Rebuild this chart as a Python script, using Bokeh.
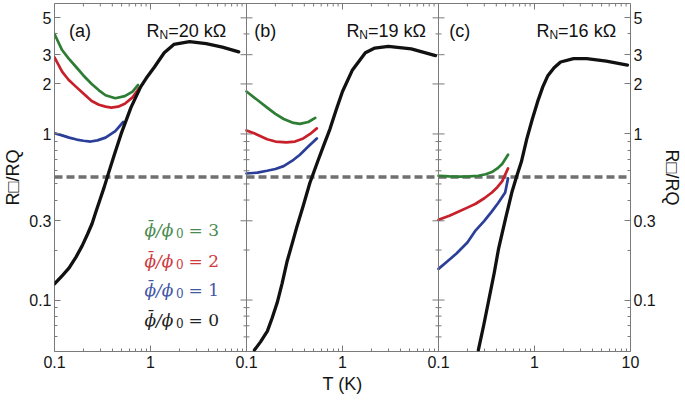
import math
from bokeh.plotting import figure
from bokeh.models import LogAxis, FixedTicker, Span, Label, Range1d, LogScale
from bokeh.embed import file_html
from bokeh.resources import INLINE

# ---------------- data: T (K) and R_sq / R_Q ----------------
# panel (a)  R_N = 20 kOhm
a_T0 = [0.1, 0.12, 0.142, 0.168, 0.194, 0.22, 0.246, 0.27, 0.30, 0.33, 0.364, 0.42, 0.494, 0.625, 0.79, 0.93, 1.1, 1.39, 1.75, 2.55, 3.8, 5.6, 8.3]
a_R0 = [0.125, 0.14, 0.156, 0.182, 0.212, 0.248, 0.288, 0.34, 0.407, 0.48, 0.577, 0.75, 1.0, 1.44, 1.92, 2.22, 2.53, 3.08, 3.46, 3.6, 3.5, 3.33, 3.12]
a_T1 = [0.1, 0.12, 0.142, 0.17, 0.2, 0.238, 0.28, 0.34, 0.43, 0.52]
a_R1 = [1.01, 0.98, 0.95, 0.925, 0.91, 0.90, 0.915, 0.95, 1.04, 1.18]
a_T2 = [0.1, 0.12, 0.14, 0.168, 0.2, 0.244, 0.29, 0.34, 0.39, 0.46, 0.54, 0.65, 0.77]
a_R2 = [2.89, 2.37, 2.12, 1.92, 1.75, 1.58, 1.5, 1.46, 1.44, 1.46, 1.52, 1.66, 1.9]
a_T3 = [0.1, 0.11, 0.12, 0.14, 0.168, 0.2, 0.244, 0.29, 0.34, 0.43, 0.54, 0.65, 0.74]
a_R3 = [4.0, 3.55, 3.2, 2.85, 2.53, 2.25, 2.0, 1.83, 1.71, 1.64, 1.69, 1.8, 1.97]

# panel (b)  R_N = 19 kOhm
b_T0 = [0.121, 0.14, 0.165, 0.185, 0.209, 0.235, 0.264, 0.3, 0.334, 0.39, 0.457, 0.55, 0.64, 0.74, 0.86, 1.0, 1.27, 1.73, 2.17, 3.0, 5.2, 9.3]
b_R0 = [0.05, 0.056, 0.065, 0.078, 0.0966, 0.126, 0.17, 0.22, 0.275, 0.37, 0.507, 0.68, 0.86, 1.07, 1.4, 1.8, 2.43, 3.08, 3.29, 3.37, 3.25, 2.96]
b_T1 = [0.1, 0.13, 0.164, 0.2, 0.244, 0.3, 0.36, 0.44, 0.54]
b_R1 = [0.578, 0.585, 0.6, 0.615, 0.64, 0.69, 0.75, 0.84, 0.94]
b_T2 = [0.1, 0.12, 0.164, 0.2, 0.26, 0.32, 0.39, 0.46, 0.54]
b_R2 = [1.05, 1.01, 0.93, 0.9, 0.89, 0.9, 0.94, 1.0, 1.08]
b_T3 = [0.1, 0.13, 0.164, 0.2, 0.244, 0.3, 0.36, 0.44, 0.52]
b_R3 = [1.8, 1.6, 1.44, 1.32, 1.23, 1.17, 1.15, 1.18, 1.25]

# panel (c)  R_N = 16 kOhm
c_T0 = [0.26, 0.295, 0.334, 0.38, 0.422, 0.5, 0.58, 0.65, 0.73, 0.83, 0.95, 1.08, 1.22, 1.37, 1.6, 1.87, 2.55, 3.5, 5.6, 9.3]
c_R0 = [0.05, 0.07, 0.1, 0.145, 0.203, 0.31, 0.444, 0.553, 0.68, 0.93, 1.23, 1.57, 1.92, 2.23, 2.5, 2.71, 2.84, 2.84, 2.74, 2.6]
c_T1 = [0.1, 0.125, 0.153, 0.2, 0.244, 0.3, 0.36, 0.42, 0.495, 0.53]
c_R1 = [0.154, 0.172, 0.19, 0.222, 0.263, 0.3, 0.342, 0.385, 0.444, 0.54]
c_T2 = [0.1, 0.13, 0.165, 0.2, 0.244, 0.3, 0.36, 0.41, 0.46, 0.53]
c_R2 = [0.304, 0.322, 0.342, 0.36, 0.38, 0.41, 0.444, 0.478, 0.518, 0.62]
c_T3 = [0.1, 0.13, 0.165, 0.21, 0.26, 0.31, 0.36, 0.41, 0.46, 0.53]
c_R3 = [0.56, 0.555, 0.553, 0.555, 0.56, 0.572, 0.59, 0.62, 0.66, 0.75]

threshold = 0.55
panel_tags = ["(a)", "(b)", "(c)"]
rn_values = ["20", "19", "16"]
phi_ratios = ["3", "2", "1", "0"]
y_title = "R\u25a1/RQ"
x_title = "T (K)"

x_tick_values = [0.1, 1, 10]
x_tick_labels = ["0.1", "1", "10"]
x_minor_values = [0.2, 0.3, 0.4, 0.5, 0.6, 0.7, 0.8, 0.9, 2, 3, 4, 5, 6, 7, 8, 9]
y_tick_values = [0.1, 0.3, 1, 2, 3, 5]
y_tick_labels = ["0.1", "0.3", "1", "2", "3", "5"]
y_minor_values = [0.06, 0.07, 0.08, 0.09, 0.2, 0.4, 0.5, 0.6, 0.7, 0.8, 0.9, 4]

# ---------------- styling ----------------
X_LO, X_HI = 0.1, 10.0
Y_LO, Y_HI = 0.049, 6.1
SPAN = X_HI / X_LO
FW, FH = 576, 348
PW = FW / 3
S = FH / 368.0
SX = PW / 198.0
TOP = 3
GRAY = "#7a7a7a"
SANS = "Liberation Sans"
COLORS = ["#111111", "#2b3f98", "#c8202b", "#2e7d34"]
TEXT_COLORS = ["#222222", "#4256a6", "#cf3a40", "#4a8a4f"]
WIDTHS = [3.3, 2.7, 2.7, 2.7]


def g(x):
    return float(f"{x:.6g}")


p = figure(x_axis_type="log", y_axis_type="log",
           x_range=Range1d(X_LO, g(X_LO * SPAN ** 3)), y_range=Range1d(Y_LO, Y_HI),
           frame_width=FW, frame_height=FH, output_backend="svg", toolbar_location=None,
           min_border_left=0, min_border_right=0, min_border_top=TOP, min_border_bottom=0,
           background_fill_color="white", border_fill_color="white")
p.extra_x_ranges = {"b": Range1d(g(X_LO / SPAN), g(X_HI * SPAN)),
                    "c": Range1d(g(X_LO / SPAN ** 2), X_HI)}
p.extra_x_scales = {"b": LogScale(), "c": LogScale()}
p.grid.visible = False
p.outline_line_color = GRAY
p.outline_line_width = 1

# combined x ticks: each panel repeats 0.1 .. 10
x_major = {}
x_minor = set()
for i in range(3):
    for v, lab in zip(x_tick_values, x_tick_labels):
        x_major[g(v * SPAN ** i)] = lab
    for m in x_minor_values:
        x_minor.add(g(m * SPAN ** i))
x_major_ticks = sorted(x_major)
x_minor_ticks = sorted(x_minor)

bottom_axis = p.below[0]
left_axis = p.left[0]
right_axis = LogAxis()
p.add_layout(right_axis, "right")


def style_axis(ax, ticks, minor, labels, title):
    ax.ticker = FixedTicker(ticks=ticks, minor_ticks=minor)
    ax.axis_line_color = None
    ax.major_tick_line_color = GRAY
    ax.minor_tick_line_color = GRAY
    ax.major_tick_in = 6
    ax.major_tick_out = 0
    ax.minor_tick_in = 3
    ax.minor_tick_out = 0
    ax.major_label_overrides = labels
    ax.major_label_text_font = SANS
    ax.major_label_text_font_size = "16px"
    ax.major_label_text_color = "#151515"
    ax.major_label_standoff = 3
    ax.axis_label = title
    ax.axis_label_text_font = SANS
    ax.axis_label_text_font_size = "18px"
    ax.axis_label_text_font_style = "normal"
    ax.axis_label_text_color = "#151515"
    ax.axis_label_standoff = 3


style_axis(bottom_axis, x_major_ticks, x_minor_ticks, x_major, x_title)
y_labels = {float(v): lab for v, lab in zip(y_tick_values, y_tick_labels)}
style_axis(left_axis, y_tick_values, y_minor_values, y_labels, y_title)
style_axis(right_axis, y_tick_values, y_minor_values, y_labels, y_title)
bottom_axis.major_label_standoff = 4

# threshold dashed line
p.add_layout(Span(location=threshold, dimension="width", line_color="#707070",
                  line_width=3.5, line_dash="8 4", level="underlay"))

# inward ticks along the top edge (half of each dash lies outside the frame and is clipped)
p.scatter(x=x_major_ticks, y=[Y_HI] * len(x_major_ticks), marker="dash", angle=math.pi / 2,
          size=12, line_color=GRAY, line_width=1)
p.scatter(x=x_minor_ticks, y=[Y_HI] * len(x_minor_ticks), marker="dash", angle=math.pi / 2,
          size=6, line_color=GRAY, line_width=1)

# panel boundaries with ticks on both sides
for k in range(2):
    bx = g(X_HI * SPAN ** k)
    p.add_layout(Span(location=bx, dimension="height", line_color=GRAY, line_width=1))
    p.scatter(x=[bx] * len(y_tick_values), y=y_tick_values, marker="dash", size=12,
              line_color=GRAY, line_width=1)
    p.scatter(x=[bx] * len(y_minor_values), y=y_minor_values, marker="dash", size=6,
              line_color=GRAY, line_width=1)

# curves
panels = [
    ("default", [(a_T0, a_R0), (a_T1, a_R1), (a_T2, a_R2), (a_T3, a_R3)]),
    ("b", [(b_T0, b_R0), (b_T1, b_R1), (b_T2, b_R2), (b_T3, b_R3)]),
    ("c", [(c_T0, c_R0), (c_T1, c_R1), (c_T2, c_R2), (c_T3, c_R3)]),
]
for rname, curves in panels:
    for j in (3, 2, 1, 0):
        T, R = curves[j]
        p.line(T, R, x_range_name=rname, line_color=COLORS[j], line_width=WIDTHS[j],
               line_join="round", line_cap="round")

# ---------------- texts ----------------
EM = {"R": 0.722, "N": 0.722, "Q": 0.778, "/": 0.278, "=": 0.584, " ": 0.278,
      "k": 0.5, "\u03a9": 0.768, "\u25a1": 0.604}


def tw(text, size):
    return sum(EM.get(ch, 0.556) for ch in text) * size


def add_pieces(fig, pieces, x0, y0, color="#111111", font=SANS):
    pos = 0.0
    for text, size, shift in pieces:
        fig.add_layout(Label(x=x0 + pos, y=y0 - shift, x_units="screen", y_units="screen",
                             text=text, text_font=font, text_font_size=f"{size}px",
                             text_color=color, text_align="left",
                             text_baseline="alphabetic"))
        pos += tw(text, size)


tag_dx = [15, 8, 11]
rn_dx = [95, 103, 101]
base_y = FH - 29 * S
for i in range(3):
    p.add_layout(Label(x=i * PW + tag_dx[i] * SX, y=base_y, x_units="screen", y_units="screen",
                       text=panel_tags[i], text_font=SANS, text_font_size="18px",
                       text_color="#111111", text_baseline="alphabetic"))
    add_pieces(p, [("R", 18, 0), ("N", 12, 4), ("=" + rn_values[i] + " k\u03a9", 18, 0)],
               i * PW + rn_dx[i] * SX, base_y)

# legend for flux values (drawn as text, like the reference)
SERIF = "DejaVu Serif"
leg_y = [240, 272, 303, 335]
for k, r in enumerate(phi_ratios):
    j = 3 - k
    x0, y0 = 90, FH - leg_y[k] * S
    col = TEXT_COLORS[j]
    p.add_layout(Label(x=x0, y=y0, x_units="screen", y_units="screen",
                       text="\u03d5/\u03d5", text_font=SERIF, text_font_style="italic",
                       text_font_size="17px", text_color=col, text_baseline="alphabetic"))
    p.add_layout(Label(x=x0 + 6.5, y=y0 + 3, x_units="screen", y_units="screen",
                       text="\u00af", text_font=SERIF, text_font_size="17px",
                       text_color=col, text_align="center", text_baseline="alphabetic"))
    p.add_layout(Label(x=x0 + 31.5, y=y0 - 3, x_units="screen", y_units="screen",
                       text="0", text_font=SERIF, text_font_size="12px",
                       text_color=col, text_baseline="alphabetic"))
    p.add_layout(Label(x=x0 + 44, y=y0, x_units="screen", y_units="screen",
                       text="= " + r, text_font=SERIF, text_font_size="17px",
                       text_color=col, text_baseline="alphabetic"))

open("out.html", "w").write(file_html(p, INLINE))
